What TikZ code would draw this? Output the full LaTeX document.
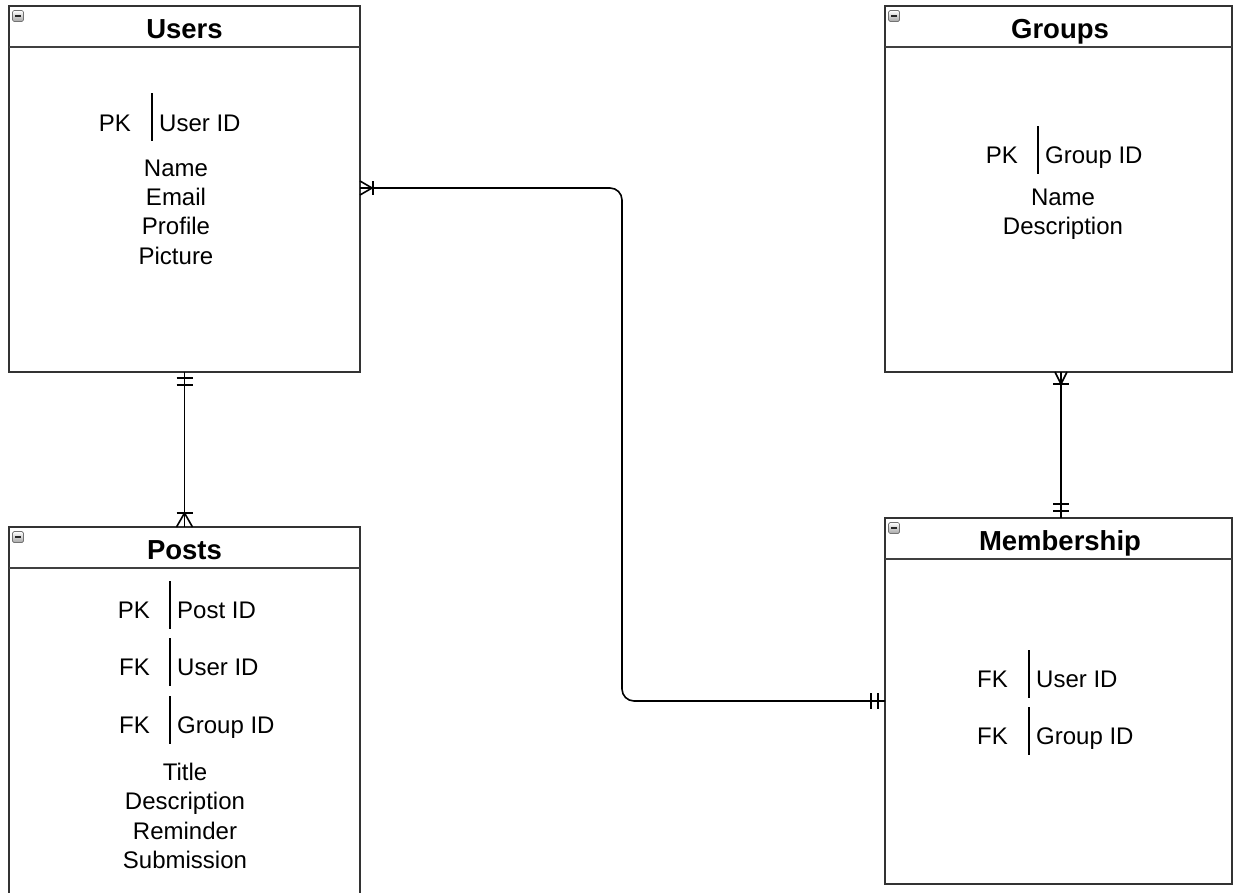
\documentclass[tikz,border=0pt]{standalone}
\usepackage{fontspec}
\setmainfont{Liberation Sans}
\usetikzlibrary{calc}
\begin{document}
\begin{tikzpicture}[x=1pt,y=-1pt,
  entity/.style={draw=black!80, line width=1.8pt, fill=white, anchor=north west,
                 inner sep=0pt, outer sep=0pt},
  hdrline/.style={draw=black!75, line width=1.8pt},
  title/.style={font=\fontsize{27.5}{30}\selectfont\bfseries, text=black,
                inner sep=0pt, anchor=base},
  attr/.style={font=\fontsize{24}{29.4}\selectfont, text=black, inner sep=0pt, align=center},
  keylbl/.style={font=\fontsize{24}{29.4}\selectfont, text=black, inner sep=0pt},
  keyname/.style={keylbl, anchor=base west},
  keytag/.style={keylbl, anchor=base east},
  keybar/.style={draw=black, line width=1.3pt},
  rel/.style={draw=black, line width=1.6pt},
  icon/.style={draw=black!55, line width=0.7pt, rounded corners=1.5pt,
               minimum size=11pt, inner sep=0pt,
               top color=white, bottom color=black!35,
               path picture={\draw[black!85, line width=1.5pt]
                 ([xshift=2.5pt]path picture bounding box.west) --
                 ([xshift=-2.5pt]path picture bounding box.east);}},
]
\clip (0,0) rectangle (1239,892);
\fill[white] (0,0) rectangle (1239,892);

% ---------- entity boxes ----------
\node[entity, minimum width=351pt, minimum height=366pt] (users) at (9,6) {};
\node[entity, minimum width=347pt, minimum height=366pt] (groups) at (885,6) {};
\node[entity, minimum width=351pt, minimum height=400pt] (posts) at (9,527) {};
\node[entity, minimum width=347pt, minimum height=366pt] (memb) at (885,518) {};

% header separators
\foreach \e in {users,groups,posts,memb}
  \draw[hdrline] ($(\e.north west)+(0,41)$) -- ($(\e.north east)+(0,41)$);

% collapse icons
\node[icon] (users-i)  at (18,16) {};
\node[icon] (groups-i) at (894,16) {};
\node[icon] (posts-i)  at (18,537) {};
\node[icon] (memb-i)   at (894,528) {};

% titles
\node[title] (users-t)  at (184.5,38)  {Users};
\node[title] (groups-t) at (1060,38)   {Groups};
\node[title] (posts-t)  at (184.5,559) {Posts};
\node[title] (memb-t)   at (1060,550)  {Membership};

% ---------- Users attributes ----------
\node[keytag]  (u-pk) at (131,131.5) {PK};
\draw[keybar] (152,93) -- (152,141);
\node[keyname] (u-id) at (159,131.5) {User ID};
\node[attr] (u-attr) at (176,212) {Name\\Email\\Profile\\Picture};

% ---------- Groups attributes ----------
\node[keytag]  (g-pk) at (1018,163.5) {PK};
\draw[keybar] (1038,126) -- (1038,174);
\node[keyname] (g-id) at (1045,163.5) {Group ID};
\node[attr] (g-attr) at (1063,214.5) {Name\\Description};

% ---------- Posts attributes ----------
\node[keytag]  (p-pk)  at (150,618.5) {PK};
\draw[keybar] (170,581) -- (170,629);
\node[keyname] (p-id)  at (177,618.5) {Post ID};
\node[keytag]  (p-fk1) at (150,675.5) {FK};
\draw[keybar] (170,638) -- (170,686);
\node[keyname] (p-uid) at (177,675.5) {User ID};
\node[keytag]  (p-fk2) at (150,733.5) {FK};
\draw[keybar] (170,696) -- (170,744);
\node[keyname] (p-gid) at (177,733.5) {Group ID};
\node[attr] (p-attr) at (185,816) {Title\\Description\\Reminder\\Submission};

% ---------- Membership attributes ----------
\node[keytag]  (m-fk1) at (1008,687.5) {FK};
\draw[keybar] (1029,650) -- (1029,698);
\node[keyname] (m-uid) at (1036,687.5) {User ID};
\node[keytag]  (m-fk2) at (1008,744.5) {FK};
\draw[keybar] (1029,707) -- (1029,755);
\node[keyname] (m-gid) at (1036,744.5) {Group ID};

% ---------- relationships ----------
% Users 1 -- N Posts
\draw[rel] (users.south) -- (posts.north);
\draw[rel] ($(users.south)+(-8,6)$)  -- ($(users.south)+(8,6)$);
\draw[rel] ($(users.south)+(-8,13)$) -- ($(users.south)+(8,13)$);
\draw[rel] ($(posts.north)+(-8,-14)$) -- ($(posts.north)+(8,-14)$);
\draw[rel] ($(posts.north)+(-8,0)$) -- ($(posts.north)+(0,-14)$) -- ($(posts.north)+(8,0)$);

% Users N -- 1 Membership
\coordinate (ue) at ($(users.north east)+(0,182)$);
\coordinate (bend) at (622,0);
\draw[rel, rounded corners=12pt] (ue) -| (bend |- memb.west) -- (memb.west);
\draw[rel] ($(ue)+(0,-7)$) -- ($(ue)+(12,0)$) -- ($(ue)+(0,7)$);
\draw[rel] ($(ue)+(13,-7)$) -- ($(ue)+(13,7)$);
\draw[rel] ($(memb.west)+(-7,-8)$)  -- ($(memb.west)+(-7,8)$);
\draw[rel] ($(memb.west)+(-14,-8)$) -- ($(memb.west)+(-14,8)$);

% Groups N -- 1 Membership
\coordinate (gs) at (1061,372);
\coordinate (mn) at (1061,518);
\draw[rel] (gs) -- (mn);
\draw[rel] ($(gs)+(-6,0)$) -- ($(gs)+(0,12)$) -- ($(gs)+(6,0)$);
\draw[rel] ($(gs)+(-8,12)$) -- ($(gs)+(8,12)$);
\draw[rel] ($(mn)+(-8,-7)$)  -- ($(mn)+(8,-7)$);
\draw[rel] ($(mn)+(-8,-14)$) -- ($(mn)+(8,-14)$);
\end{tikzpicture}
\end{document}
